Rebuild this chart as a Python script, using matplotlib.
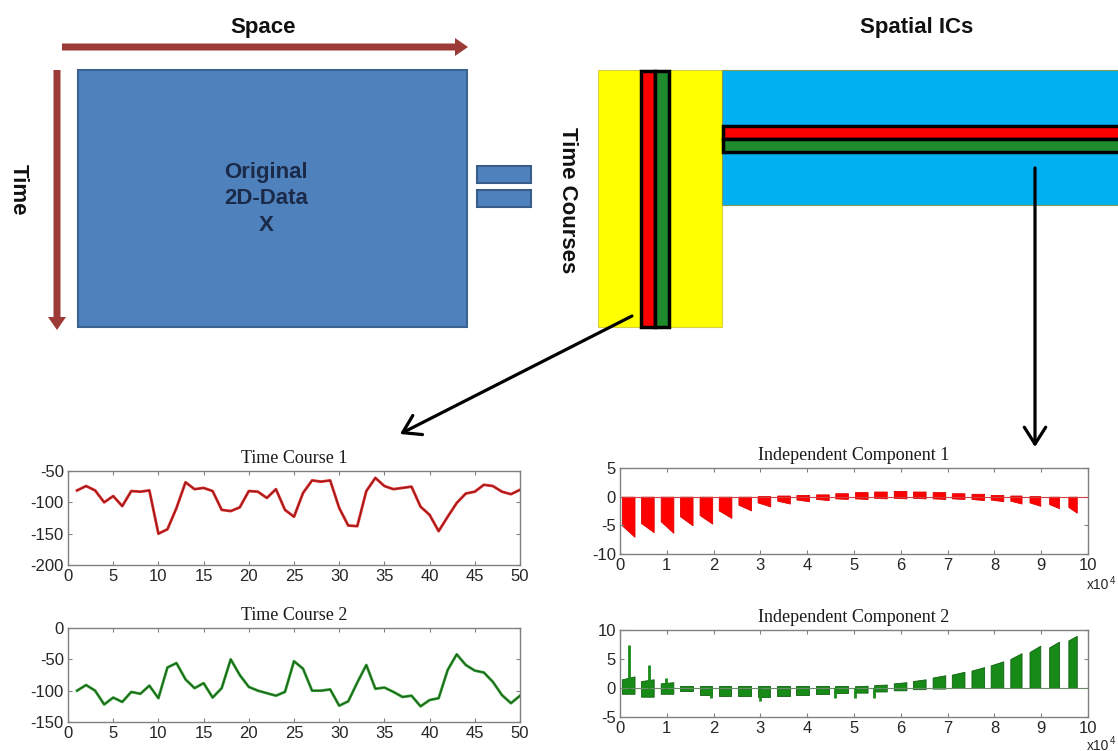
import matplotlib
matplotlib.use("Agg")
import matplotlib.pyplot as plt
from matplotlib.patches import Rectangle, FancyArrow

plt.rcParams['font.family'] = ['Liberation Sans', 'DejaVu Sans']
plt.rcParams['axes.unicode_minus'] = False

# ---------------- data ----------------
tc_t = list(range(1, 51))
tc1 = [-81, -74, -81, -100, -90, -106, -82, -83, -81, -150,
       -143, -109, -68, -79, -77, -82, -112, -114, -108, -82,
       -83, -93, -79, -112, -123, -85, -65, -67, -65, -109,
       -137, -138, -82, -61, -74, -79, -77, -75, -107, -120,
       -146, -123, -101, -86, -83, -72, -74, -83, -87, -80]
tc2 = [-100, -91, -100, -122, -111, -118, -102, -105, -92, -112,
       -63, -56, -82, -96, -88, -111, -96, -50, -75, -94,
       -100, -104, -108, -102, -53, -65, -100, -100, -98, -124,
       -117, -87, -59, -97, -95, -102, -110, -108, -125, -115,
       -112, -67, -42, -59, -68, -71, -86, -107, -120, -108]

# voxel blocks along the spatial axis (units of 1e4 voxels)
block_start = [0.04, 0.45, 0.87, 1.28, 1.70, 2.11, 2.53, 2.94, 3.36, 3.77, 4.19, 4.60,
               5.02, 5.43, 5.85, 6.26, 6.68, 7.09, 7.51, 7.92, 8.34, 8.75, 9.17, 9.58]
block_end = [0.31, 0.72, 1.14, 1.55, 1.97, 2.38, 2.80, 3.21, 3.63, 4.04, 4.46, 4.87,
             5.29, 5.70, 6.12, 6.53, 6.95, 7.36, 7.78, 8.19, 8.58, 8.98, 9.38, 9.76]

ic1_low_left = [-5.0, -4.6, -4.3, -3.4, -3.2, -2.4, -1.4, -1.0, -0.7, -0.5, -0.4, -0.3,
                -0.3, -0.2, -0.2, -0.2, -0.3, -0.3, -0.4, -0.5, -0.7, -1.0, -1.3, -1.8]
ic1_low_right = [-7.0, -6.2, -6.3, -5.0, -4.7, -3.7, -2.4, -1.7, -1.2, -0.8, -0.6, -0.4,
                 -0.4, -0.3, -0.3, -0.3, -0.4, -0.4, -0.6, -0.8, -1.2, -1.6, -2.0, -2.8]
ic1_high = [0, 0, 0, 0, 0, 0, 0, 0.1, 0.2, 0.3, 0.4, 0.6,
            0.8, 0.9, 1.0, 0.9, 0.8, 0.6, 0.5, 0.3, 0.2, 0.1, 0, 0]

ic2_low = [-1.0, -1.5, -1.0, -0.5, -1.2, -1.4, -1.3, -1.5, -1.3, -1.2, -1.0, -0.9,
           -0.8, -0.6, -0.4, -0.2, -0.1, 0, 0, 0, 0, 0, 0, 0]
ic2_high_left = [1.5, 1.2, 0.8, 0.3, 0.3, 0.3, 0.3, 0.3, 0.3, 0.3, 0.3, 0.3,
                 0.3, 0.5, 0.8, 1.2, 1.8, 2.3, 3.0, 3.9, 5.0, 6.2, 7.0, 8.2]
ic2_high_right = [2.0, 1.5, 1.0, 0.3, 0.3, 0.3, 0.3, 0.3, 0.3, 0.3, 0.3, 0.3,
                  0.4, 0.6, 1.0, 1.5, 2.2, 2.8, 3.6, 4.6, 6.0, 7.3, 8.0, 9.0]
ic2_spike_x = [0.20, 0.62, 0.98, 1.95, 3.00, 4.60, 5.03, 5.43]
ic2_spike_y = [7.5, 4.0, 1.8, -1.8, -2.2, -1.8, -1.8, -1.8]

tc_xticks = [0, 5, 10, 15, 20, 25, 30, 35, 40, 45, 50]
tc1_yticks = [-200, -150, -100, -50]
tc2_yticks = [-150, -100, -50, 0]
ic_xticks = [0, 1, 2, 3, 4, 5, 6, 7, 8, 9, 10]
ic1_yticks = [-10, -5, 0, 5]
ic2_yticks = [-5, 0, 5, 10]

# ---------------- figure ----------------
W, H = 1118, 751
fig = plt.figure(figsize=(W / 100, H / 100), dpi=100)
fig.patch.set_facecolor('white')

SERIF = 'Liberation Serif'


def box(left, top, right, bottom):
    return [left / W, 1 - bottom / H, (right - left) / W, (bottom - top) / H]


# diagram layer in pixel units
bg = fig.add_axes([0, 0, 1, 1])
bg.set_xlim(0, W)
bg.set_ylim(H, 0)
bg.axis('off')

arrow_red = '#9b3a37'
bg.add_patch(FancyArrow(62, 47, 406, 0, width=7, head_width=18, head_length=13,
                        length_includes_head=True, color=arrow_red, lw=0))
bg.add_patch(FancyArrow(57, 70, 0, 260, width=7, head_width=18, head_length=13,
                        length_includes_head=True, color=arrow_red, lw=0))
bg.add_patch(Rectangle((78, 70), 389, 257, fc='#4f81bd', ec='#3b6391', lw=1.5))
bg.add_patch(Rectangle((477, 166), 54, 17, fc='#4f81bd', ec='#385d8a', lw=1.5))
bg.add_patch(Rectangle((477, 190), 54, 17, fc='#4f81bd', ec='#385d8a', lw=1.5))

bg.text(263, 27, 'Space', ha='center', va='center', fontsize=16, fontweight='bold', color='#111111')
bg.text(917, 27, 'Spatial ICs', ha='center', va='center', fontsize=16, fontweight='bold', color='#111111')
bg.text(18, 190, 'Time', ha='center', va='center', rotation=-90, fontsize=16,
        fontweight='bold', color='#111111')
bg.text(568, 200, 'Time Courses', ha='center', va='center', rotation=-90, fontsize=16,
        fontweight='bold', color='#111111')
bg.text(266, 199, 'Original\n2D-Data\nX', ha='center', va='center', fontsize=16,
        fontweight='bold', color='#1b2a48', linespacing=1.35)

# mixing matrix (time courses) and source maps (spatial ICs)
bg.add_patch(Rectangle((598, 70), 124, 257, fc='#ffff00', ec='#d8d040', lw=0.8))
bg.add_patch(Rectangle((722, 70), 420, 135, fc='#00b0f0', ec='#8a9a50', lw=0.8))
bg.add_patch(Rectangle((641, 71), 14, 256, fc='#ff0000', ec='black', lw=2.5))
bg.add_patch(Rectangle((655, 71), 14, 256, fc='#1e8c2c', ec='black', lw=2.5))
bg.add_patch(Rectangle((723, 126), 420, 13, fc='#ff0000', ec='black', lw=2.5))
bg.add_patch(Rectangle((723, 139), 420, 13, fc='#1e8c2c', ec='black', lw=2.5))

arrow_kw = dict(arrowstyle='->,head_length=0.55,head_width=0.35', lw=2.3,
                color='black', mutation_scale=22, shrinkA=0, shrinkB=0)
bg.annotate('', xy=(1035, 447), xytext=(1035, 168), arrowprops=arrow_kw)
bg.annotate('', xy=(400, 434), xytext=(632, 316), arrowprops=arrow_kw)


def style(ax, title):
    for s in ax.spines.values():
        s.set_color('#808080')
        s.set_linewidth(1.0)
    ax.tick_params(direction='in', length=3, width=0.8, color='#808080',
                   top=True, right=True, labelsize=12, labelcolor='#262626', pad=3)
    ax.set_title(title, fontfamily=SERIF, fontsize=13, pad=6, color='#1a1a1a')


def exponent_label(ax, y):
    ax.text(1.045, y, 'x10', transform=ax.transAxes, ha='right', va='center',
            fontsize=10, color='#262626')
    ax.text(1.047, y + 0.05, '4', transform=ax.transAxes, ha='left', va='center',
            fontsize=7, color='#262626')


# time courses
ax1 = fig.add_axes(box(68, 471, 520, 565))
ax1.plot(tc_t, tc1, color='#e02828', lw=2.0)
ax1.plot(tc_t, tc1, color='#7d1a1a', lw=0.8, alpha=0.8)
ax1.set_xlim(0, 50)
ax1.set_ylim(-200, -50)
ax1.set_xticks(tc_xticks)
ax1.set_yticks(tc1_yticks)
style(ax1, 'Time Course 1')

ax2 = fig.add_axes(box(68, 628, 520, 722))
ax2.plot(tc_t, tc2, color='#2fa02f', lw=2.0)
ax2.plot(tc_t, tc2, color='#1a4a1a', lw=0.8, alpha=0.8)
ax2.set_xlim(0, 50)
ax2.set_ylim(-150, 0)
ax2.set_xticks(tc_xticks)
ax2.set_yticks(tc2_yticks)
style(ax2, 'Time Course 2')

# spatial components
ax3 = fig.add_axes(box(620, 468, 1088, 554))
ax3.axhline(0, color='#d04040', lw=0.8)
for s, e, ll, lr, hi in zip(block_start, block_end, ic1_low_left, ic1_low_right, ic1_high):
    ax3.fill_between([s, e], [ll, lr], [hi, hi], color='#ff0000', lw=0.6, edgecolor='#e00000')
ax3.set_xlim(0, 10)
ax3.set_ylim(-10, 5)
ax3.set_xticks(ic_xticks)
ax3.set_yticks(ic1_yticks)
style(ax3, 'Independent Component 1')
exponent_label(ax3, -0.36)

ax4 = fig.add_axes(box(620, 630, 1088, 717))
ax4.axhline(0, color='#6a8a6a', lw=0.8)
for s, e, lo, hl, hr in zip(block_start, block_end, ic2_low, ic2_high_left, ic2_high_right):
    ax4.fill_between([s, e], [lo, lo], [hl, hr], color='#178a17', lw=0.6, edgecolor='#106010')
ax4.vlines(ic2_spike_x, 0, ic2_spike_y, color='#178a17', lw=2.0)
ax4.set_xlim(0, 10)
ax4.set_ylim(-5, 10)
ax4.set_xticks(ic_xticks)
ax4.set_yticks(ic2_yticks)
style(ax4, 'Independent Component 2')
exponent_label(ax4, -0.33)

fig.savefig('out.png', dpi=100, facecolor='white')
